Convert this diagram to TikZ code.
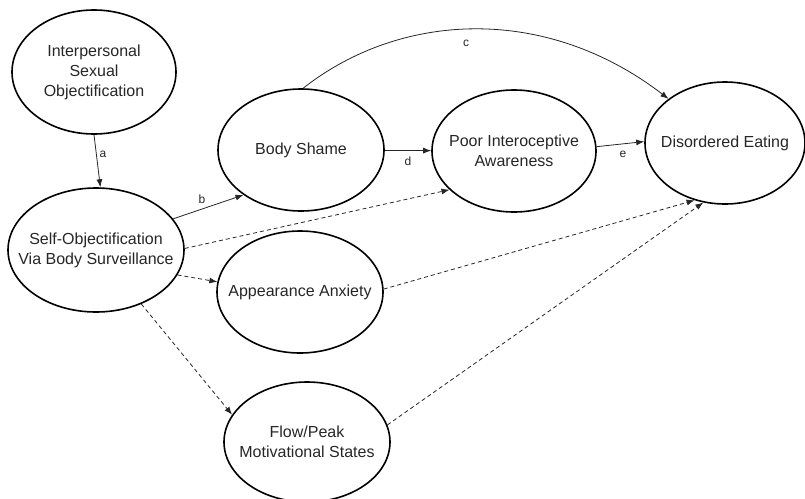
\documentclass[tikz,border=0pt]{standalone}
\usepackage{fontspec}
\setmainfont{Liberation Sans}
\usetikzlibrary{shapes.geometric,arrows.meta}
\begin{document}
\begin{tikzpicture}[x=1pt,y=-1pt,
  construct/.style={ellipse,draw=black,line width=1.6pt,inner xsep=-60pt,inner ysep=-30pt,align=center,
     text=black!85,font=\fontsize{16}{20}\selectfont},
  path/.style={line width=0.8pt,draw=black!85,-{Latex[length=8pt,width=6pt]}},
  dpath/.style={path,dash pattern=on 4pt off 3pt},
  lbl/.style={font=\fontsize{12}{14}\selectfont,text=black!85,inner sep=0pt}]
\useasboundingbox (0,0) rectangle (805,498);
\node[construct,minimum width=164pt,minimum height=124pt] (isp) at (94,72) {Interpersonal\\Sexual\\Objectification};
\node[construct,minimum width=176pt,minimum height=124pt] (so) at (96,250) {Self-Objectification\\Via Body Surveillance};
\node[construct,minimum width=166pt,minimum height=122pt] (bs) at (301,150) {Body Shame};
\node[construct,minimum width=164pt,minimum height=122pt] (poor) at (514,151) {Poor Interoceptive\\Awareness};
\node[construct,minimum width=160pt,minimum height=122pt] (de) at (725,143) {Disordered Eating};
\node[construct,minimum width=166pt,minimum height=122pt] (app) at (300,292) {Appearance Anxiety};
\node[construct,minimum width=166pt,minimum height=120pt] (flow) at (307,442) {Flow/Peak\\Motivational States};

\draw[path] (isp.270) -- (so.86);
\draw[path] (so.22) -- (bs.218);
\draw[path] (bs.88) .. controls (400,12) and (545,4) .. (de.142);
\draw[path] (bs) -- (poor);
\draw[path] (poor.3) -- (de.179);

\draw[dpath] (so.1) -- (poor.211);
\draw[dpath] (so.343) -- (app.173);
\draw[dpath] (so.310) -- (flow.160);
\draw[dpath] (app.2) -- (de.242);
\draw[dpath] (flow.12) -- (de.250);

\node[lbl] (la) at (103,154) {a};
\node[lbl] (lb) at (202,199) {b};
\node[lbl] (lc) at (466,43) {c};
\node[lbl] (ld) at (408,161) {d};
\node[lbl] (le) at (623,154) {e};
\end{tikzpicture}
\end{document}
